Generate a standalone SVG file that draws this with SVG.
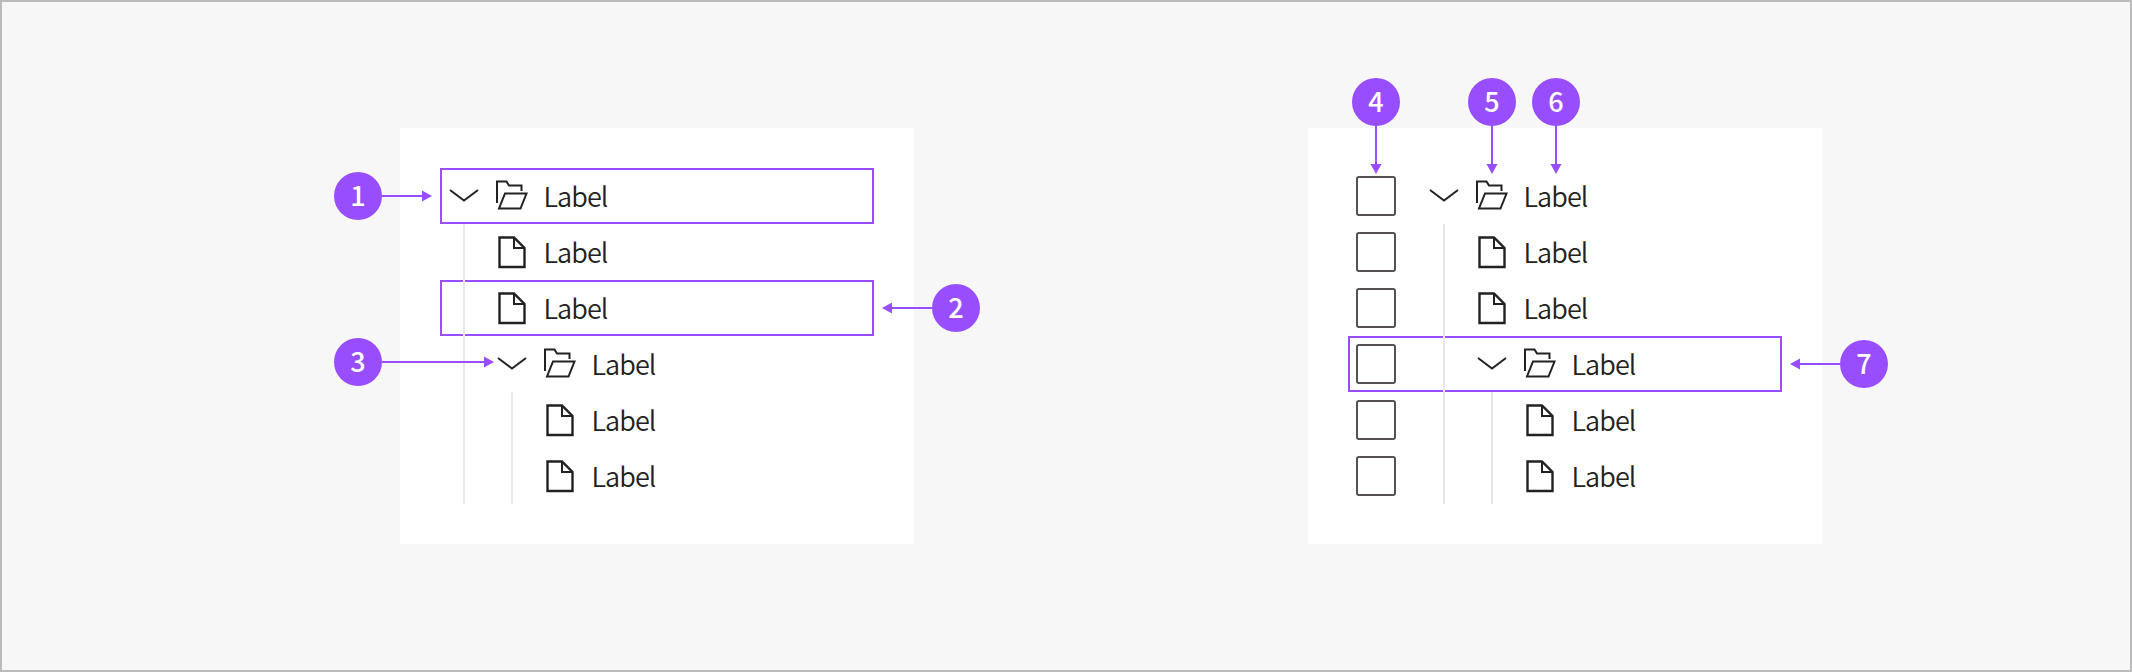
<svg xmlns="http://www.w3.org/2000/svg" xmlns:xlink="http://www.w3.org/1999/xlink" width="2132" height="672" viewBox="0 0 2132 672">
<style>
.panel{fill:#fff}
.hl{fill:none;stroke:#984eff;stroke-width:2}
.guide{stroke:#e8e8e8;stroke-width:2;fill:none}
.ic{fill:none;stroke:#222;stroke-width:2}
.fi{fill:none;stroke:#222;stroke-width:2.4}
.cb{fill:#fff;stroke:#565151;stroke-width:2}
.lb{font-family:"Noto Sans CJK KR","Noto Sans",sans-serif;font-size:27px;font-weight:350;letter-spacing:-0.9px;fill:#222}
.badge{fill:#984eff}
.num{font-family:"Noto Sans CJK KR","Noto Sans",sans-serif;font-size:27px;font-weight:500;fill:#fff;text-anchor:middle}
.conn{stroke:#984eff;stroke-width:2;fill:none;marker-end:url(#ah)}
</style>
<defs>
<marker id="ah" markerUnits="userSpaceOnUse" markerWidth="10" markerHeight="12" refX="0" refY="6" orient="auto">
<polygon points="0,0.5 10,6 0,11.5" fill="#984eff"/>
</marker>
<g id="chev"><polyline class="ic" points="450,-6 464,4.5 478,-6"/></g>
<g id="folder"><path class="ic" d="M497 7V-14.5H506.5L509 -10.5H521.5V-5"/><path class="ic" d="M526.5 -2.5H505L499 12.5H520.5Z"/></g>
<g id="file"><path class="fi" d="M499.5 -14.5H514L524.5 -4V15H499.5Z"/><path class="ic" d="M514 -14.5V-4H524.5"/></g>
</defs>
<rect x="1" y="1" width="2130" height="670" fill="#f7f7f7" stroke="#bbb" stroke-width="2"/>
<g id="panel-left"><rect class="panel" x="400" y="128" width="514" height="416"/></g>
<g id="panel-right"><rect class="panel" x="1308" y="128" width="514" height="416"/></g>
<g id="highlights">
<rect id="box-1" class="hl" x="441" y="169" width="432" height="54"/>
<rect id="box-2" class="hl" x="441" y="281" width="432" height="54"/>
<rect id="box-7" class="hl" x="1349" y="337" width="432" height="54"/>
</g>
<g id="guides">
<path class="guide" d="M464 224V504M512 392V504M1444 224V504M1492 392V504"/>
</g>
<g id="tree-left">
<g id="l-row1"><use href="#chev" y="196"/><use href="#folder" y="196"/><text class="lb" x="543.5" y="206.5">Label</text></g>
<g id="l-row2"><use href="#file" y="252"/><text class="lb" x="543.5" y="262.5">Label</text></g>
<g id="l-row3"><use href="#file" y="308"/><text class="lb" x="543.5" y="318.5">Label</text></g>
<g id="l-row4"><use href="#chev" x="48" y="364"/><use href="#folder" x="48" y="364"/><text class="lb" x="591.5" y="374.5">Label</text></g>
<g id="l-row5"><use href="#file" x="48" y="420"/><text class="lb" x="591.5" y="430.5">Label</text></g>
<g id="l-row6"><use href="#file" x="48" y="476"/><text class="lb" x="591.5" y="486.5">Label</text></g>
</g>
<g id="tree-right">
<g id="r-row1"><rect class="cb" x="1357" y="177" width="38" height="38" rx="2"/><use href="#chev" x="980" y="196"/><use href="#folder" x="980" y="196"/><text class="lb" x="1523.5" y="206.5">Label</text></g>
<g id="r-row2"><rect class="cb" x="1357" y="233" width="38" height="38" rx="2"/><use href="#file" x="980" y="252"/><text class="lb" x="1523.5" y="262.5">Label</text></g>
<g id="r-row3"><rect class="cb" x="1357" y="289" width="38" height="38" rx="2"/><use href="#file" x="980" y="308"/><text class="lb" x="1523.5" y="318.5">Label</text></g>
<g id="r-row4"><rect class="cb" x="1357" y="345" width="38" height="38" rx="2"/><use href="#chev" x="1028" y="364"/><use href="#folder" x="1028" y="364"/><text class="lb" x="1571.5" y="374.5">Label</text></g>
<g id="r-row5"><rect class="cb" x="1357" y="401" width="38" height="38" rx="2"/><use href="#file" x="1028" y="420"/><text class="lb" x="1571.5" y="430.5">Label</text></g>
<g id="r-row6"><rect class="cb" x="1357" y="457" width="38" height="38" rx="2"/><use href="#file" x="1028" y="476"/><text class="lb" x="1571.5" y="486.5">Label</text></g>
</g>
<g id="connectors">
<line class="conn" x1="382" y1="196" x2="422" y2="196"/>
<line class="conn" x1="932" y1="308" x2="892" y2="308"/>
<line class="conn" x1="382" y1="362" x2="484" y2="362"/>
<line class="conn" x1="1376" y1="126" x2="1376" y2="164"/>
<line class="conn" x1="1492" y1="126" x2="1492" y2="164"/>
<line class="conn" x1="1556" y1="126" x2="1556" y2="164"/>
<line class="conn" x1="1840" y1="364" x2="1800" y2="364"/>
</g>
<g id="badge-1"><circle class="badge" cx="358" cy="196" r="24"/><text class="num" x="358" y="205.5">1</text></g>
<g id="badge-2"><circle class="badge" cx="956" cy="308" r="24"/><text class="num" x="956" y="317.5">2</text></g>
<g id="badge-3"><circle class="badge" cx="358" cy="362" r="24"/><text class="num" x="358" y="371.5">3</text></g>
<g id="badge-4"><circle class="badge" cx="1376" cy="102" r="24"/><text class="num" x="1376" y="111.5">4</text></g>
<g id="badge-5"><circle class="badge" cx="1492" cy="102" r="24"/><text class="num" x="1492" y="111.5">5</text></g>
<g id="badge-6"><circle class="badge" cx="1556" cy="102" r="24"/><text class="num" x="1556" y="111.5">6</text></g>
<g id="badge-7"><circle class="badge" cx="1864" cy="364" r="24"/><text class="num" x="1864" y="373.5">7</text></g>
</svg>
